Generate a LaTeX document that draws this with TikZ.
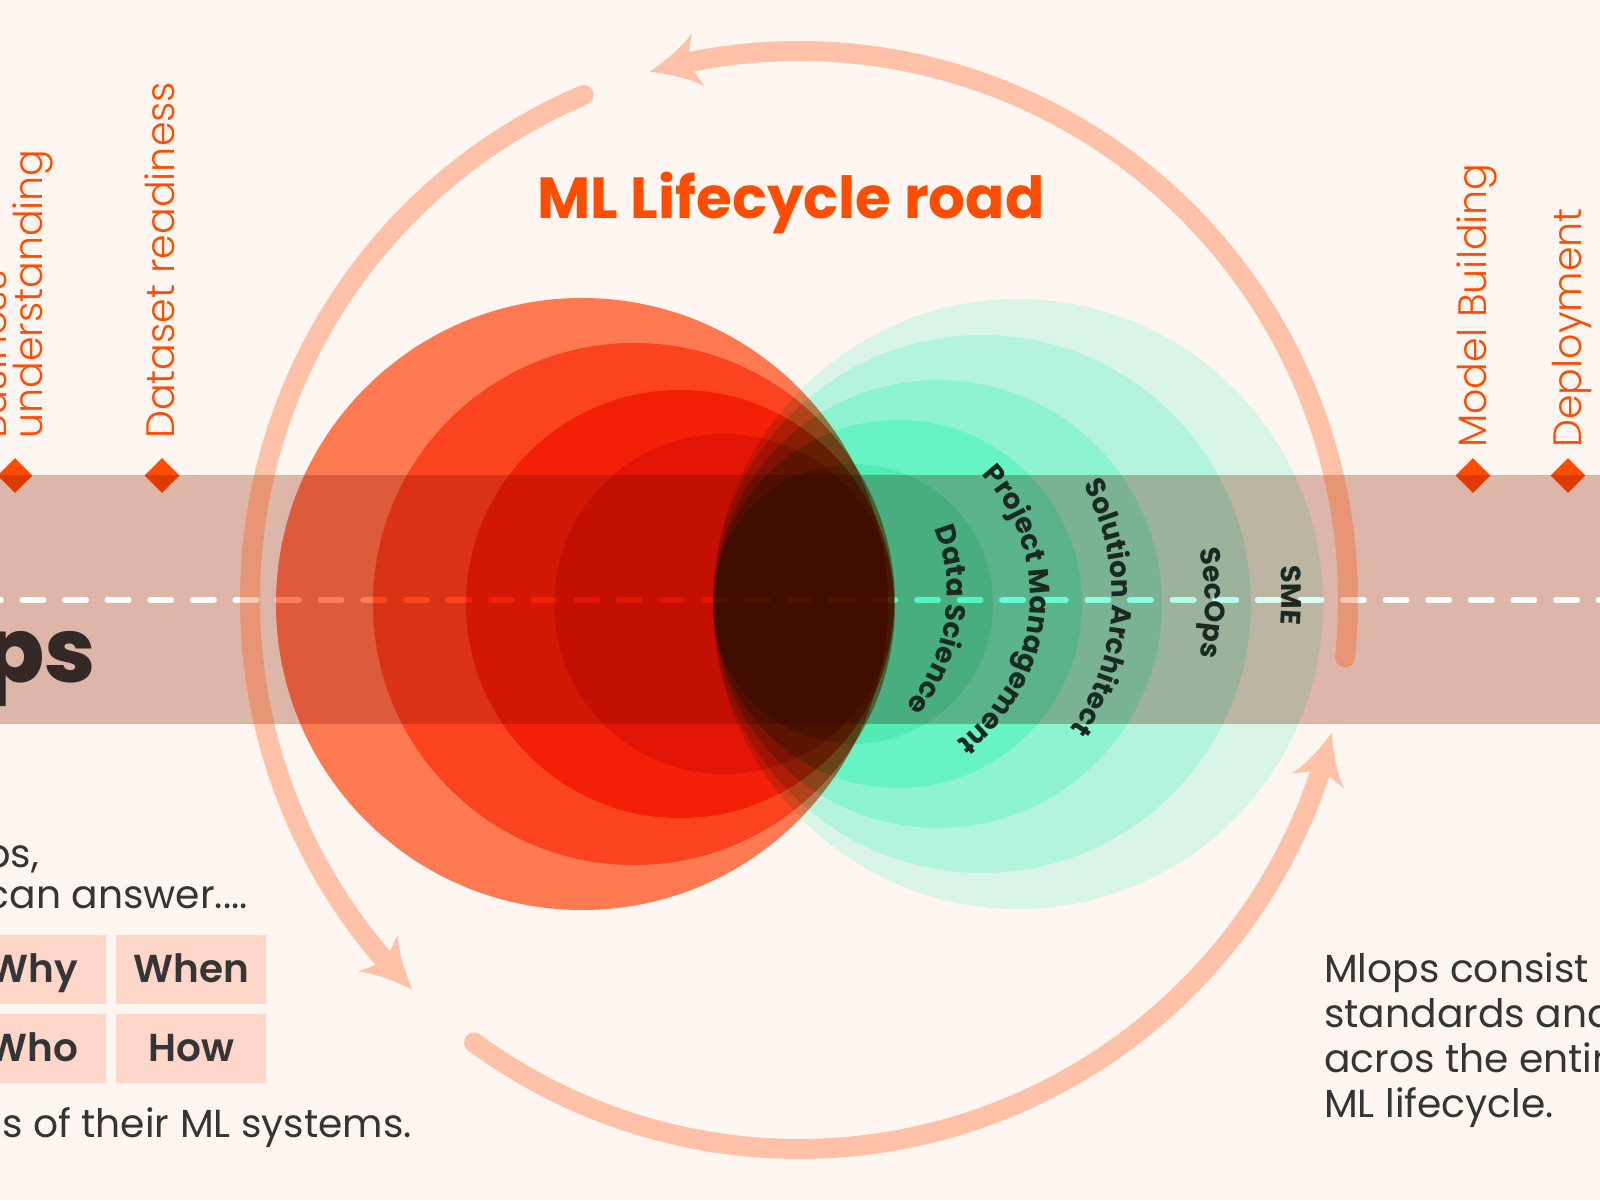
\documentclass[tikz,border=0pt]{standalone}
\usepackage{fontspec}
\setmainfont{Poppins}
\newfontfamily\popsemi{Poppins SemiBold}
\newfontfamily\poplight{Poppins Light}
\newfontfamily\popheavy{Poppins ExtraBold}
\usetikzlibrary{positioning,shapes.geometric,decorations.text}

\definecolor{paper}{HTML}{FFF5F1}
\definecolor{roadfill}{HTML}{DDBDB3}
\definecolor{flame}{HTML}{FF4D00}
\definecolor{inkdark}{HTML}{353535}
\definecolor{inkbig}{HTML}{332826}
\definecolor{boxfill}{HTML}{FFD6CA}
\definecolor{curveink}{HTML}{1A2A22}
\definecolor{redA}{RGB}{255,128,88}
\definecolor{redB}{RGB}{251,143,98}
\definecolor{redC}{RGB}{247,118,64}
\definecolor{redD}{RGB}{238,168,185}
\definecolor{greenA}{RGB}{217,255,245}
\definecolor{greenB}{RGB}{212,253,245}
\definecolor{greenC}{RGB}{201,255,242}
\definecolor{greenD}{RGB}{189,255,240}
\definecolor{greenE}{RGB}{204,247,235}

\newcommand{\ringhead}[2]{% tip angle, name
	\path (ringc) ++(#1:549) coordinate (#2);
	\fill[shift={(#2)},rotate=#1-92] (0,0) .. controls (18,7) and (36,15) .. (50,27) -- (43,10) -- (43,-10) -- (50,-27) .. controls (36,-15) and (18,-7) .. (0,0) -- cycle;
}
\newcommand{\curvedlabel}[5]{% centre, radius, from, to, text
	\path[decorate,decoration={text along path,text align=center,text={|\curvefont|#5}}] (#1) ++(#3:#2) arc (#3:#4:#2);
}
\newcommand{\curvefont}{\bfseries\fontsize{28}{28}\selectfont\color{curveink}}

\tikzset{
	mark dot/.style={diamond,fill=flame,inner sep=0pt,minimum width=35pt,minimum height=35pt},
	phase label/.style={rotate=90,anchor=base west,inner sep=0pt,text=flame,font=\poplight\fontsize{39.6}{39.6}\selectfont},
	body text/.style={inner sep=0pt,text=inkdark,font=\fontsize{39.2}{39.2}\selectfont},
	ask box/.style={fill=boxfill,inner sep=0pt,minimum width=150pt,text height=47pt,text depth=22pt,text=inkdark,font=\popsemi\fontsize{39}{39}\selectfont},
	ring/.style={draw=flame,line width=20pt,line cap=round},
	blob/.style={blend mode=multiply},
}

\begin{document}
\begin{tikzpicture}[x=1pt,y=1pt]
	\useasboundingbox (0,0) rectangle (1600,1200);
	\fill[paper] (0,0) rectangle (1600,1200);

	% stage markers and names
	\node[mark dot] (d1) at (15,724.5) {};
	\node[mark dot] (d2) at (162,724.5) {};
	\node[mark dot] (d3) at (1473,724.5) {};
	\node[mark dot] (d4) at (1568,724.5) {};
	\node[phase label] (l0) at (6,761) {Business};
	\node[phase label] (l1) at (42,761) {understanding};
	\node[phase label] (l2) at (174,761) {Dataset readiness};
	\node[phase label] (l3) at (1486,752) {Model Building};
	\node[phase label] (l4) at (1581,752) {Deployment};

	% road
	\fill[roadfill,blend mode=multiply] (-5,475.5) rectangle (1605,724.5);
	\coordinate (dashl) at (-20.2,600);
	\coordinate (dashr) at (1620,600);
	\draw[white,line width=6pt,line cap=round,dash pattern=on 21pt off 21.6pt] (dashl) -- (dashr);
	\node[anchor=base east,inner sep=0pt,text=inkbig,font=\popheavy\fontsize{90}{90}\selectfont] (ps) at (96,517) {ps};

	% circles
	\begin{scope}[blob]
		\fill[redA] (582,596) circle (306);
		\fill[redB] (634,596) circle (261);
		\fill[redC] (680,596) circle (214);
		\fill[redD] (724,596) circle (170);
		\fill[greenA] (1018,596) circle (305);
		\fill[greenB] (982,596) circle (269);
		\fill[greenC] (938,596) circle (224);
		\fill[greenD] (898,596) circle (184);
		\fill[greenE] (853,596) circle (140);
	\end{scope}

	\curvedlabel{772,606}{175}{34}{-52}{Data Science}
	\curvedlabel{852,603}{178}{55}{-66}{Project Management}
	\curvedlabel{882,603}{230}{43}{-49}{Solution Architect}
	\curvedlabel{945,597}{260}{21}{-21}{SecOps}
	\curvedlabel{982,599}{300}{11}{-9}{SME}

	% life cycle arrows
	\coordinate (ringc) at (799,600);
	\begin{scope}[transparency group,opacity=.3]
		\draw[ring] (ringc) ++(-6:549) arc (-6:101.5:549);
		\draw[ring] (ringc) ++(113.1:549) arc (113.1:220.8:549);
		\draw[ring] (ringc) ++(233.7:549) arc (233.7:341.5:549);
		\begin{scope}[flame]
			\ringhead{105.8}{heada}
			\ringhead{225.2}{headb}
			\ringhead{346}{headc}
		\end{scope}
	\end{scope}

	\node[anchor=base,inner sep=0pt,text=flame,font=\bfseries\fontsize{58}{58}\selectfont] (title) at (791,981) {ML Lifecycle road};

	% left notes
	\node[body text,anchor=base east] (n1) at (39,333) {ops,};
	\node[body text,anchor=base east] (n2) at (248,292) {can answer....};
	\node[ask box,minimum width=146pt] (b1) at (33,230.5) {Why};
	\node[ask box,right=10pt of b1] (b2) {When};
	\node[ask box,minimum width=146pt,below=10pt of b1] (b3) {Who};
	\node[ask box,below=10pt of b2] (b4) {How};
	\node[body text,anchor=base east] (n3) at (412,63) {s of their ML systems.};

	% right note
	\node[body text,anchor=north west,align=left,font=\fontsize{39.2}{45}\selectfont] (n4) at (1324,248) {Mlops consist\\standards and\\acros the entire\\ML lifecycle.};
\end{tikzpicture}
\end{document}
